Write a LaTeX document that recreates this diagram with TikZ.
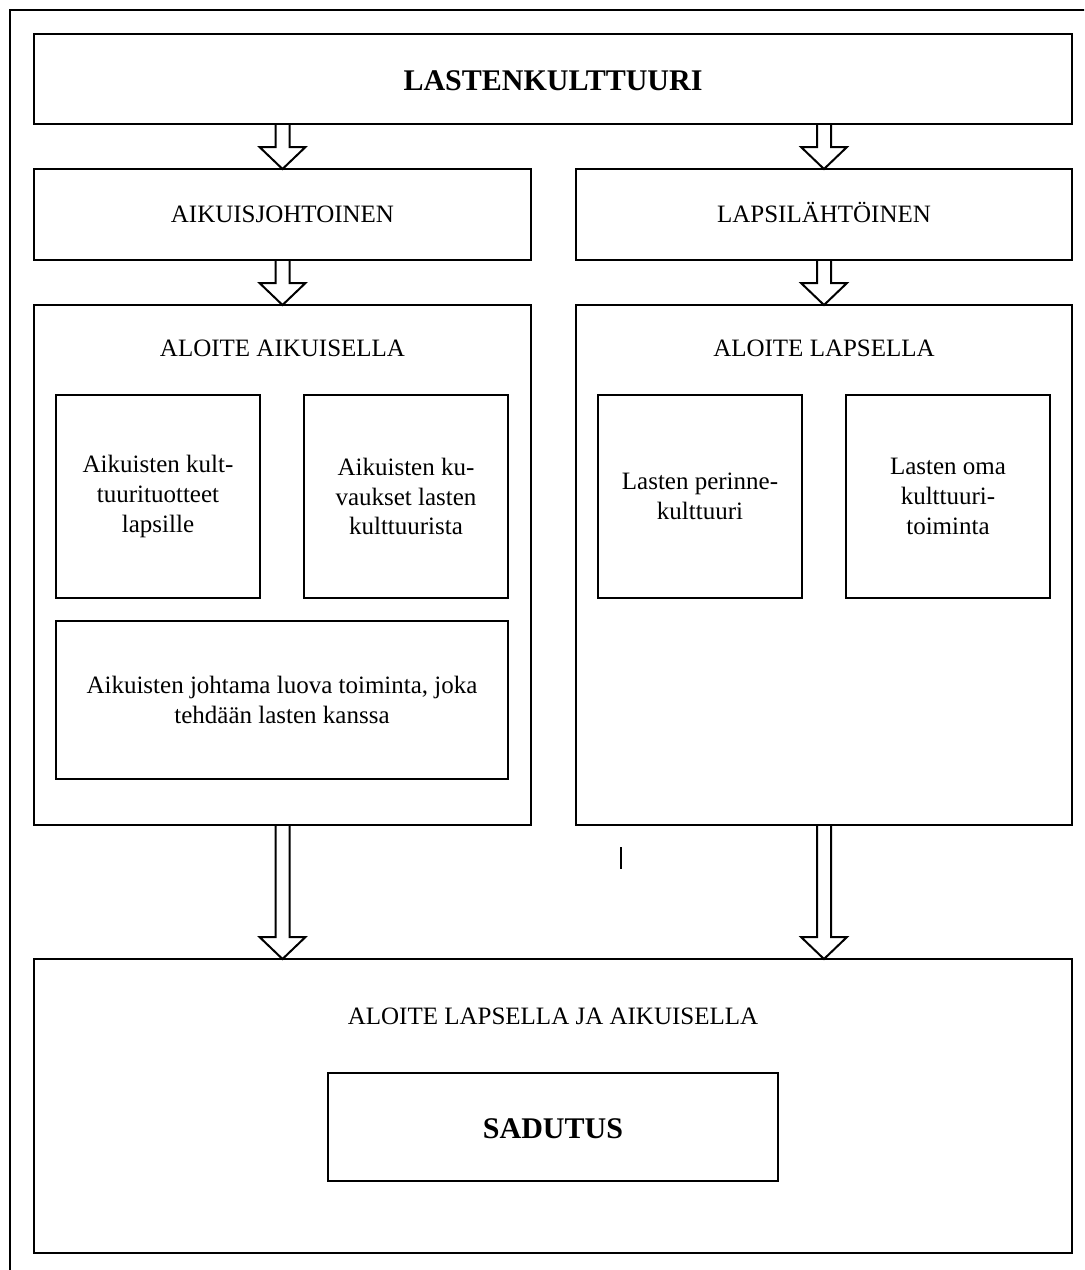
\documentclass[tikz,border=0pt]{standalone}
\usepackage{fontspec}
\setmainfont{Liberation Serif}
\usetikzlibrary{calc}

\tikzset{
  box/.style={draw, line width=1pt, rectangle, inner sep=0pt, outer sep=0pt, align=center,
              font=\fontsize{12.5}{14.8}\selectfont},
  oneline/.style={text height=9.5pt, text depth=2pt},
  bigline/.style={text height=12.5pt, text depth=1.5pt, font=\fontsize{15}{18}\selectfont\bfseries},
  lbl/.style={inner sep=0pt, oneline, font=\fontsize{12.5}{14.8}\selectfont},
  arr/.style={line width=1pt, line join=miter}
}
% hollow block arrow, from #1 down to tip #2
\newcommand{\blockarrow}[2]{%
  \draw[arr] ($(#1)+(-7,0)$) -- ($(#2)+(-7,-22)$) -- ($(#2)+(-23,-22)$) -- (#2)
    -- ($(#2)+(23,-22)$) -- ($(#2)+(7,-22)$) -- ($(#1)+(7,0)$);}

\begin{document}
\begin{tikzpicture}[x=0.5pt, y=-0.5pt]
  \clip (0,0) rectangle (1084,1270);
  \draw[line width=1pt] (10,10) rectangle (1100,1290);

  \node[box, bigline, minimum width=519pt, minimum height=45pt] (title) at (553,79) {LASTENKULTTUURI};

  \node[box, oneline, minimum width=248.5pt, minimum height=45.5pt] (aikjoht) at (282.5,214.5) {AIKUISJOHTOINEN};
  \node[box, oneline, minimum width=248pt, minimum height=45.5pt] (lapslaht) at (824,214.5) {LAPSILÄHTÖINEN};

  \node[box, minimum width=248.5pt, minimum height=260pt] (alaik) at (282.5,565) {};
  \node[box, minimum width=248pt, minimum height=260pt] (allap) at (824,565) {};
  \node[lbl] (alaiklbl) at (282.5,349) {ALOITE AIKUISELLA};
  \node[lbl] (allaplbl) at (824,349) {ALOITE LAPSELLA};

  \node[box, minimum width=102pt, minimum height=101.5pt] (tuotteet) at (158,496.5)
    {Aikuisten kult-\\tuurituotteet\\lapsille};
  \node[box, minimum width=102pt, minimum height=101.5pt] (kuvaukset) at (406,496.5)
    {Aikuisten ku-\\vaukset lasten\\kulttuurista};
  \node[box, minimum width=226pt, minimum height=79pt] (luova) at (282,700)
    {Aikuisten johtama luova toiminta, joka\\tehdään lasten kanssa};

  \node[box, minimum width=102pt, minimum height=101.5pt] (perinne) at (700,496.5)
    {Lasten perinne-\\kulttuuri};
  \node[box, minimum width=102pt, minimum height=101.5pt] (oma) at (948,496.5)
    {Lasten oma\\kulttuuri-\\toiminta};

  \node[box, minimum width=519pt, minimum height=147pt] (yhteinen) at (553,1106) {};
  \node[lbl] (yhteinenlbl) at (553,1017) {ALOITE LAPSELLA JA AIKUISELLA};
  \node[box, bigline, minimum width=225pt, minimum height=54pt] (sadutus) at (553,1127) {SADUTUS};

  \coordinate (a1) at (aikjoht.north |- title.south);
  \coordinate (a2) at (lapslaht.north |- title.south);
  \coordinate (a3) at (alaik.north |- aikjoht.south);
  \coordinate (a4) at (allap.north |- lapslaht.south);
  \coordinate (a5) at (alaik.south |- yhteinen.north);
  \coordinate (a6) at (allap.south |- yhteinen.north);

  \blockarrow{a1}{aikjoht.north}
  \blockarrow{a2}{lapslaht.north}
  \blockarrow{a3}{alaik.north}
  \blockarrow{a4}{allap.north}
  \blockarrow{alaik.south}{a5}
  \blockarrow{allap.south}{a6}

  \draw[line width=1pt] (621,847) -- (621,869);
\end{tikzpicture}
\end{document}
